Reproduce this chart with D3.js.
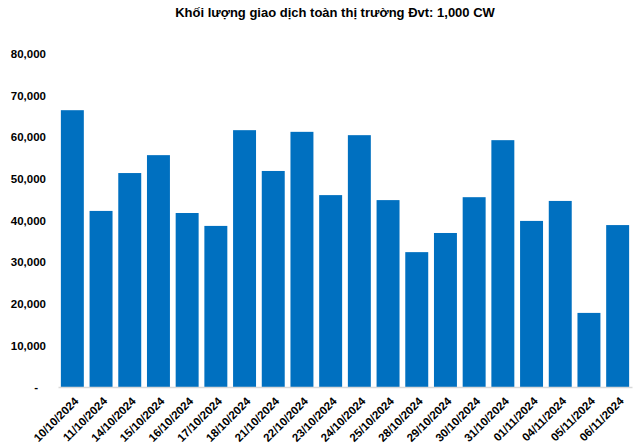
<!DOCTYPE html>
<html>
<head>
<meta charset="utf-8">
<script src="https://cdn.jsdelivr.net/npm/d3@7"></script>
<style>
  body { margin: 0; background: #fff; }
  text { font-family: "Liberation Sans", Arial, sans-serif; }
</style>
</head>
<body>
<svg id="chart"></svg>
<script>
// Dữ liệu
const dates = ["10/10/2024", "11/10/2024", "14/10/2024", "15/10/2024", "16/10/2024",
  "17/10/2024", "18/10/2024", "21/10/2024", "22/10/2024", "23/10/2024",
  "24/10/2024", "25/10/2024", "28/10/2024", "29/10/2024", "30/10/2024",
  "31/10/2024", "01/11/2024", "04/11/2024", "05/11/2024", "06/11/2024"];
const volumes = [66500, 42300, 51400, 55700, 41800, 38700, 61700, 51900, 61300, 46100,
  60500, 44900, 32400, 37000, 45600, 59300, 39900, 44700, 17800, 38900];
const yTicks = [0, 10000, 20000, 30000, 40000, 50000, 60000, 70000, 80000];

const width = 640, height = 447;
const margin = { top: 54, right: 8, bottom: 60, left: 58 };

const svg = d3.select("#chart").attr("width", width).attr("height", height);

const x = d3.scaleBand()
  .domain(dates)
  .range([margin.left, width - margin.right])
  .paddingInner(0.2)
  .paddingOuter(0.1);

const y = d3.scaleLinear()
  .domain([0, 80000])
  .range([height - margin.bottom, margin.top]);

// tiêu đề
svg.append("text")
  .attr("x", 335).attr("y", 17)
  .attr("text-anchor", "middle")
  .style("font-size", "13px").style("font-weight", "bold")
  .text("Khối lượng giao dịch toàn thị trường Đvt: 1,000 CW");

// cột
svg.selectAll("rect.bar")
  .data(volumes)
  .join("rect")
  .attr("class", "bar")
  .attr("x", (d, i) => x(dates[i]))
  .attr("width", x.bandwidth())
  .attr("y", d => y(d))
  .attr("height", d => y(0) - y(d))
  .attr("fill", "#0070C0");

// trục Y
const yAxis = svg.append("g")
  .attr("transform", `translate(${margin.left},0)`)
  .call(d3.axisLeft(y).tickValues(yTicks).tickSize(0).tickPadding(12)
    .tickFormat(d => d === 0 ? "-" : d3.format(",")(d)));
yAxis.select(".domain").remove();
yAxis.selectAll("text").style("font-size", "11.5px").style("font-weight", "bold").attr("fill", "#000");
yAxis.selectAll(".tick").filter(d => d === 0).select("text").attr("dx", "-8px");

// trục X
const xAxis = svg.append("g")
  .attr("transform", `translate(0,${y(0)})`)
  .call(d3.axisBottom(x).tickSize(0).tickPadding(0));
xAxis.select(".domain").attr("stroke", "#d9d9d9").attr("stroke-width", 1.5);
xAxis.selectAll("text")
  .style("font-size", "11.5px").style("font-weight", "bold").attr("fill", "#000")
  .attr("text-anchor", "end")
  .attr("dy", "0.35em")
  .attr("transform", "translate(4,12) rotate(-45)");
</script>
</body>
</html>
